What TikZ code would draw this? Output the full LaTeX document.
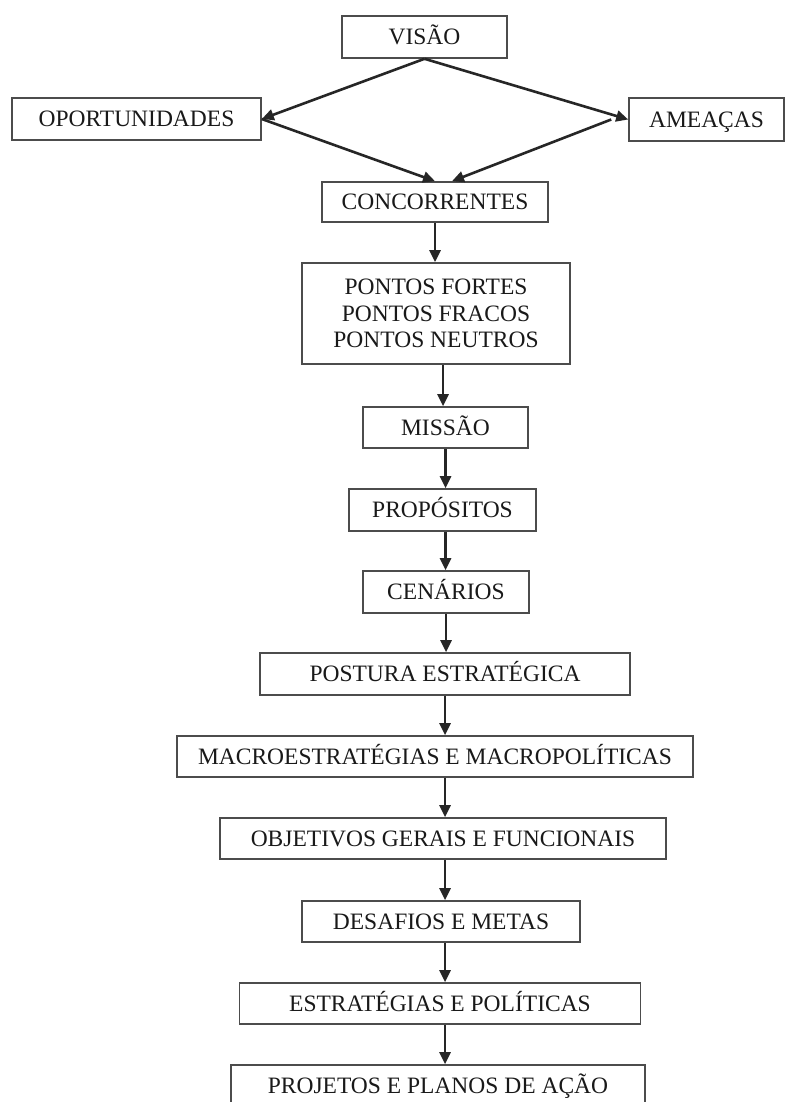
\documentclass[tikz,border=0pt]{standalone}
\usepackage{fontspec}
\setmainfont{Liberation Serif}
\usetikzlibrary{arrows.meta}
\tikzset{
  box/.style={draw=black!70, line width=1.6pt, fill=white, inner sep=0pt, align=center,
    text=black!90, font=\fontsize{23.5}{26.5}\selectfont},
  line1/.style={box, text height=15.5pt, text depth=0pt},
  arr/.style={draw=black!85, line width=2.6pt, -{Triangle[length=12pt,width=11pt]}}
}
\begin{document}
\begin{tikzpicture}[x=1pt,y=-1pt]
\fill[white] (0,0) rectangle (785,1102);
\useasboundingbox (0,0) rectangle (785,1102);
\node[line1, minimum width=165pt, minimum height=42pt] (visao) at (424.5,37) {VISÃO};
\node[line1, minimum width=249pt, minimum height=42pt] (oport) at (136.5,119) {OPORTUNIDADES};
\node[line1, minimum width=155pt, minimum height=43pt] (ame) at (706.5,119.5) {AMEAÇAS};
\node[line1, minimum width=226pt, minimum height=40pt] (conc) at (435,202) {CONCORRENTES};
\node[box, minimum width=268pt, minimum height=101pt] (pontos) at (436,313.5) {PONTOS FORTES\\PONTOS FRACOS\\PONTOS NEUTROS};
\node[line1, minimum width=165pt, minimum height=41pt] (missao) at (445.5,427.5) {MISSÃO};
\node[line1, minimum width=187pt, minimum height=42pt] (prop) at (442.5,510) {PROPÓSITOS};
\node[line1, minimum width=166pt, minimum height=42pt] (cen) at (446,592) {CENÁRIOS};
\node[line1, minimum width=370pt, minimum height=42pt] (post) at (445,674) {POSTURA ESTRATÉGICA};
\node[line1, minimum width=516pt, minimum height=41pt] (macro) at (435,756.5) {MACROESTRATÉGIAS E MACROPOLÍTICAS};
\node[line1, minimum width=446pt, minimum height=41pt] (obj) at (443,838.5) {OBJETIVOS GERAIS E FUNCIONAIS};
\node[line1, minimum width=278pt, minimum height=41pt] (des) at (441,921.5) {DESAFIOS E METAS};
\node[line1, minimum width=401pt, minimum height=41pt] (est) at (440,1003.5) {ESTRATÉGIAS E POLÍTICAS};
\node[line1, minimum width=414pt, minimum height=42pt] (proj) at (438,1086) {PROJETOS E PLANOS DE AÇÃO};
\coordinate (ameout) at ([xshift=-17pt]ame.west);
\coordinate (concR) at ([xshift=17pt]conc.north);
\draw[arr] (visao.south) -- (oport.east);
\draw[arr] (visao.south) -- (ame.west);
\draw[arr] (oport.east) -- (conc.north);
\draw[arr] (ameout) -- (concR);
\draw[arr] (conc.south) -- (conc.south |- pontos.north);
\draw[arr] ([xshift=7pt]pontos.south) -- ([xshift=7pt]pontos.south |- missao.north);
\draw[arr] (missao.south) -- (missao.south |- prop.north);
\draw[arr] (missao.south |- prop.south) -- (missao.south |- cen.north);
\draw[arr] (cen.south) -- (cen.south |- post.north);
\draw[arr] (post.south) -- (post.south |- macro.north);
\draw[arr] (post.south |- macro.south) -- (post.south |- obj.north);
\draw[arr] (post.south |- obj.south) -- (post.south |- des.north);
\draw[arr] (post.south |- des.south) -- (post.south |- est.north);
\draw[arr] (post.south |- est.south) -- (post.south |- proj.north);
\end{tikzpicture}
\end{document}
